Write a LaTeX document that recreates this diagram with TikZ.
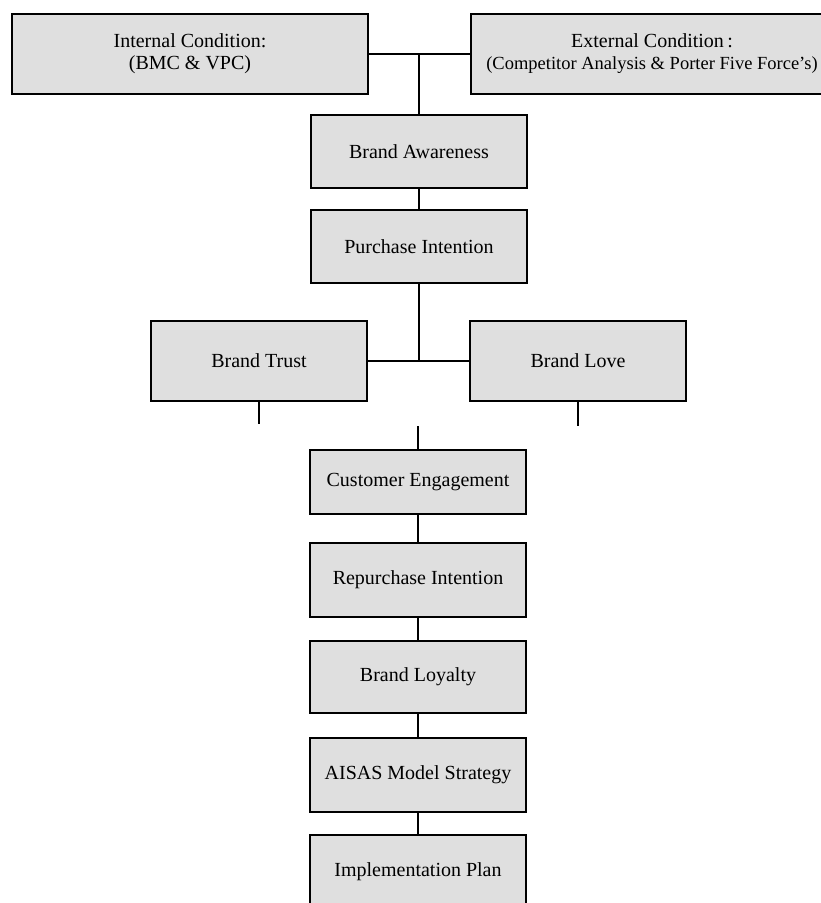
\documentclass[tikz,border=0pt]{standalone}
\usepackage{fontspec}
\setmainfont{Liberation Serif}
\usepackage{tikz}
\usetikzlibrary{positioning}
\definecolor{boxgray}{HTML}{DFDFDF}

\begin{document}
\begin{tikzpicture}[x=1pt,y=-1pt,node distance=97pt,on grid,line width=1.5pt]
    \tikzset{block/.style={draw,rectangle,fill=boxgray,minimum width=216pt,minimum height=74pt,inner sep=0pt,align=center,font=\fontsize{20}{22}\selectfont}}
    \clip (0,0) rectangle (821,903);
    \node[block,minimum width=356pt,minimum height=80pt] (ic) at (190,54) {Internal Condition:\\(BMC \& VPC)};
    \node[block,minimum width=362pt,minimum height=80pt] (ec) at (652,54) {External Condition\,:\\{\fontsize{18.5}{22}\selectfont(Competitor Analysis \& Porter Five Force’s)}};
    \node[block,minimum height=73pt] (aware) at (419,151.5) {Brand Awareness};
    \node[block,minimum height=73pt] (purch) [below=95pt of aware] {Purchase Intention};
    \node[block,minimum height=80pt] (trust) at (259,361) {Brand Trust};
    \node[block,minimum height=80pt] (love) at (578,361) {Brand Love};
    \node[block,minimum height=64pt] (engage) at (418,482) {Customer Engagement};
    \node[block] (repur) [below=98pt of engage] {Repurchase Intention};
    \node[block,minimum height=72pt] (loyal) [below=97pt of repur] {Brand Loyalty};
    \node[block] (aisas) [below=98pt of loyal] {AISAS Model Strategy};
    \node[block] (plan) [below=97pt of aisas] {Implementation Plan};
    \coordinate (join) at (aware.north |- ic.east);
    \coordinate (split) at (purch.south |- trust.east);
    \coordinate[below=22pt of trust.south] (trustend);
    \coordinate[below=24pt of love.south] (loveend);
    \coordinate[above=23pt of engage.north] (engageend);
    \draw (ic) -- (ec);
    \draw (join) -- (aware);
    \draw (aware) -- (purch);
    \draw (purch) -- (split);
    \draw (trust) -- (love);
    \draw (trust.south) -- (trustend);
    \draw (love.south) -- (loveend);
    \draw (engageend) -- (engage.north);
    \draw (engage) -- (repur);
    \draw (repur) -- (loyal);
    \draw (loyal) -- (aisas);
    \draw (aisas) -- (plan);
\end{tikzpicture}
\end{document}
